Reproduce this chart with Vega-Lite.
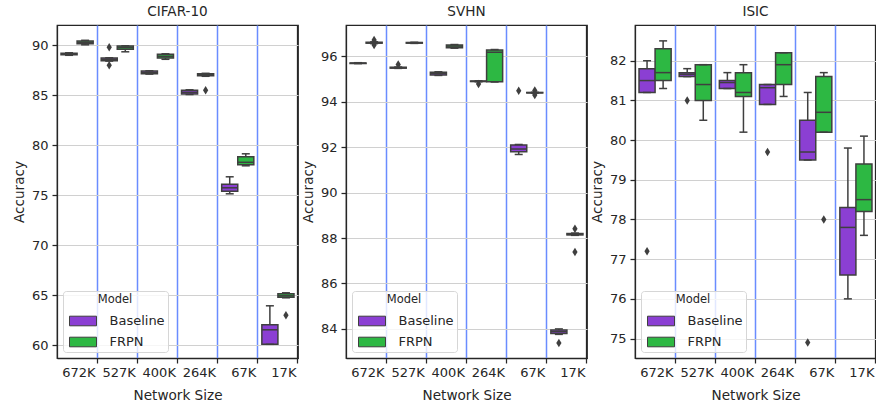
{
  "$schema": "https://vega.github.io/schema/vega-lite/v6.json",
  "background": "white",
  "padding": {"left": 11, "top": 4, "right": 1, "bottom": 1},
  "config": {
    "font": "DejaVu Sans",
    "view": {"stroke": "#262626", "strokeWidth": 1.25},
    "axis": {"labelFontSize": 13, "titleFontSize": 13.6, "labelColor": "#262626", "titleColor": "#262626", "titleFontWeight": "normal", "domainColor": "#262626", "tickColor": "#262626", "tickSize": 5, "domainWidth": 1.25, "tickWidth": 1.25, "labelPadding": 3},
    "axisY": {"titlePadding": 5, "labelPadding": 4},
    "title": {"fontSize": 13.6, "fontWeight": "normal", "color": "#262626", "offset": 6},
    "legend": {"orient": "bottom-left", "offset": 6, "fillColor": "rgba(255,255,255,0.8)", "strokeColor": "#d6d6d6", "cornerRadius": 3, "padding": 3, "titleAnchor": "middle", "titleFontSize": 11.5, "titleFontWeight": "normal", "titleColor": "#262626", "labelFontSize": 13, "labelColor": "#262626", "symbolType": "M-1.35,-0.48H1.35V0.48H-1.35Z", "symbolSize": 400, "symbolOffset": 6.5, "symbolStrokeColor": "#3f3f3f", "symbolStrokeWidth": 1, "symbolOpacity": 1, "labelOffset": 16, "rowPadding": 3, "titlePadding": 5}
  },
  "datasets": {
    "boxes": [
      {"panel": "CIFAR-10", "size": "672K", "model": "Baseline", "lo": 89.0, "q1": 89.05, "med": 89.12, "q3": 89.2, "hi": 89.25},
      {"panel": "CIFAR-10", "size": "672K", "model": "FRPN", "lo": 90.05, "q1": 90.15, "med": 90.3, "q3": 90.42, "hi": 90.5},
      {"panel": "CIFAR-10", "size": "527K", "model": "Baseline", "lo": 88.42, "q1": 88.45, "med": 88.6, "q3": 88.72, "hi": 88.75},
      {"panel": "CIFAR-10", "size": "527K", "model": "FRPN", "lo": 89.35, "q1": 89.6, "med": 89.78, "q3": 89.92, "hi": 89.95},
      {"panel": "CIFAR-10", "size": "400K", "model": "Baseline", "lo": 87.12, "q1": 87.15, "med": 87.28, "q3": 87.42, "hi": 87.45},
      {"panel": "CIFAR-10", "size": "400K", "model": "FRPN", "lo": 88.6, "q1": 88.72, "med": 88.9, "q3": 89.1, "hi": 89.15},
      {"panel": "CIFAR-10", "size": "264K", "model": "Baseline", "lo": 85.08, "q1": 85.12, "med": 85.3, "q3": 85.5, "hi": 85.55},
      {"panel": "CIFAR-10", "size": "264K", "model": "FRPN", "lo": 86.9, "q1": 86.95, "med": 87.05, "q3": 87.15, "hi": 87.2},
      {"panel": "CIFAR-10", "size": "67K", "model": "Baseline", "lo": 75.15, "q1": 75.4, "med": 75.75, "q3": 76.1, "hi": 76.85},
      {"panel": "CIFAR-10", "size": "67K", "model": "FRPN", "lo": 77.95, "q1": 78.05, "med": 78.3, "q3": 78.85, "hi": 79.15},
      {"panel": "CIFAR-10", "size": "17K", "model": "Baseline", "lo": 60.1, "q1": 60.1, "med": 61.55, "q3": 62.05, "hi": 63.95},
      {"panel": "CIFAR-10", "size": "17K", "model": "FRPN", "lo": 64.75, "q1": 64.8, "med": 64.95, "q3": 65.15, "hi": 65.25},
      {"panel": "SVHN", "size": "672K", "model": "Baseline", "lo": 95.68, "q1": 95.69, "med": 95.7, "q3": 95.71, "hi": 95.72},
      {"panel": "SVHN", "size": "672K", "model": "FRPN", "lo": 96.56, "q1": 96.58, "med": 96.6, "q3": 96.62, "hi": 96.64},
      {"panel": "SVHN", "size": "527K", "model": "Baseline", "lo": 95.47, "q1": 95.48, "med": 95.5, "q3": 95.52, "hi": 95.53},
      {"panel": "SVHN", "size": "527K", "model": "FRPN", "lo": 96.57, "q1": 96.58, "med": 96.6, "q3": 96.61, "hi": 96.62},
      {"panel": "SVHN", "size": "400K", "model": "Baseline", "lo": 95.16, "q1": 95.18, "med": 95.25, "q3": 95.3, "hi": 95.32},
      {"panel": "SVHN", "size": "400K", "model": "FRPN", "lo": 96.36, "q1": 96.38, "med": 96.45, "q3": 96.5, "hi": 96.52},
      {"panel": "SVHN", "size": "264K", "model": "Baseline", "lo": 94.88, "q1": 94.89, "med": 94.9, "q3": 94.91, "hi": 94.92},
      {"panel": "SVHN", "size": "264K", "model": "FRPN", "lo": 94.87, "q1": 94.88, "med": 96.18, "q3": 96.28, "hi": 96.3},
      {"panel": "SVHN", "size": "67K", "model": "Baseline", "lo": 91.68, "q1": 91.8, "med": 91.92, "q3": 92.1, "hi": 92.12},
      {"panel": "SVHN", "size": "67K", "model": "FRPN", "lo": 94.38, "q1": 94.39, "med": 94.4, "q3": 94.41, "hi": 94.42},
      {"panel": "SVHN", "size": "17K", "model": "Baseline", "lo": 83.76, "q1": 83.8, "med": 83.88, "q3": 83.95, "hi": 84.0},
      {"panel": "SVHN", "size": "17K", "model": "FRPN", "lo": 88.12, "q1": 88.14, "med": 88.16, "q3": 88.2, "hi": 88.22},
      {"panel": "ISIC", "size": "672K", "model": "Baseline", "lo": 81.2, "q1": 81.2, "med": 81.5, "q3": 81.8, "hi": 82.0},
      {"panel": "ISIC", "size": "672K", "model": "FRPN", "lo": 81.3, "q1": 81.5, "med": 81.7, "q3": 82.3, "hi": 82.5},
      {"panel": "ISIC", "size": "527K", "model": "Baseline", "lo": 81.6, "q1": 81.6, "med": 81.66, "q3": 81.7, "hi": 81.8},
      {"panel": "ISIC", "size": "527K", "model": "FRPN", "lo": 80.5, "q1": 81.0, "med": 81.4, "q3": 81.9, "hi": 81.9},
      {"panel": "ISIC", "size": "400K", "model": "Baseline", "lo": 81.3, "q1": 81.3, "med": 81.45, "q3": 81.5, "hi": 81.7},
      {"panel": "ISIC", "size": "400K", "model": "FRPN", "lo": 80.2, "q1": 81.1, "med": 81.2, "q3": 81.7, "hi": 81.9},
      {"panel": "ISIC", "size": "264K", "model": "Baseline", "lo": 80.9, "q1": 80.9, "med": 81.32, "q3": 81.4, "hi": 81.4},
      {"panel": "ISIC", "size": "264K", "model": "FRPN", "lo": 81.1, "q1": 81.4, "med": 81.9, "q3": 82.2, "hi": 82.2},
      {"panel": "ISIC", "size": "67K", "model": "Baseline", "lo": 79.5, "q1": 79.5, "med": 79.7, "q3": 80.5, "hi": 81.2},
      {"panel": "ISIC", "size": "67K", "model": "FRPN", "lo": 80.2, "q1": 80.2, "med": 80.7, "q3": 81.6, "hi": 81.7},
      {"panel": "ISIC", "size": "17K", "model": "Baseline", "lo": 76.0, "q1": 76.6, "med": 77.8, "q3": 78.3, "hi": 79.8},
      {"panel": "ISIC", "size": "17K", "model": "FRPN", "lo": 77.6, "q1": 78.2, "med": 78.5, "q3": 79.4, "hi": 80.1}
    ],
    "outliers": [
      {"panel": "CIFAR-10", "size": "527K", "model": "Baseline", "value": 89.8},
      {"panel": "CIFAR-10", "size": "527K", "model": "Baseline", "value": 88.0},
      {"panel": "CIFAR-10", "size": "264K", "model": "FRPN", "value": 85.5},
      {"panel": "CIFAR-10", "size": "17K", "model": "FRPN", "value": 63.0},
      {"panel": "SVHN", "size": "672K", "model": "FRPN", "value": 96.72},
      {"panel": "SVHN", "size": "672K", "model": "FRPN", "value": 96.5},
      {"panel": "SVHN", "size": "527K", "model": "Baseline", "value": 95.64},
      {"panel": "SVHN", "size": "264K", "model": "Baseline", "value": 94.78},
      {"panel": "SVHN", "size": "67K", "model": "Baseline", "value": 94.49},
      {"panel": "SVHN", "size": "67K", "model": "FRPN", "value": 94.5},
      {"panel": "SVHN", "size": "67K", "model": "FRPN", "value": 94.3},
      {"panel": "SVHN", "size": "17K", "model": "Baseline", "value": 83.38},
      {"panel": "SVHN", "size": "17K", "model": "FRPN", "value": 88.41},
      {"panel": "SVHN", "size": "17K", "model": "FRPN", "value": 87.39},
      {"panel": "ISIC", "size": "672K", "model": "Baseline", "value": 77.2},
      {"panel": "ISIC", "size": "527K", "model": "Baseline", "value": 81.0},
      {"panel": "ISIC", "size": "264K", "model": "Baseline", "value": 79.7},
      {"panel": "ISIC", "size": "67K", "model": "Baseline", "value": 74.9},
      {"panel": "ISIC", "size": "67K", "model": "FRPN", "value": 78.0}
    ]
  },
  "spacing": 48,
  "bounds": "flush",
  "resolve": {"scale": {"color": "independent", "y": "independent", "x": "independent", "xOffset": "independent"}, "legend": {"color": "independent"}},
  "hconcat": [
    {
      "width": 241, "height": 333, "title": "CIFAR-10",
      "encoding": {
        "x": {"field": "size", "type": "nominal", "sort": ["672K", "527K", "400K", "264K", "67K", "17K"], "title": "Network Size", "scale": {"paddingInner": 0, "paddingOuter": 0}, "axis": {"bandPosition": 1, "labelAlign": "right", "labelOffset": 18.5, "labelAngle": 0, "labelOverlap": false, "grid": true, "gridColor": {"condition": {"test": "datum.value === '17K'", "value": "#262626"}, "value": "#6a8cff"}, "gridWidth": {"condition": {"test": "datum.value === '17K'", "value": 1.25}, "value": 1.5}, "gridOpacity": 1, "titlePadding": 9}},
        "xOffset": {"field": "model", "type": "nominal", "sort": ["Baseline", "FRPN"], "scale": {"paddingOuter": 0.25, "paddingInner": 0}},
        "color": {"field": "model", "type": "nominal", "title": "Model", "scale": {"domain": ["Baseline", "FRPN"], "range": ["#8b3fd3", "#2db843"]}}
      },
      "layer": [
        {
          "data": {"name": "boxes"},
          "transform": [{"filter": "datum.panel === 'CIFAR-10'"}],
          "layer": [
            {"mark": {"type": "rule", "color": "#3f3f3f", "strokeWidth": 1.5}, "encoding": {"y": {"field": "lo", "type": "quantitative", "title": "Accuracy", "scale": {"domain": [58.73, 92.03], "nice": false, "zero": false}, "axis": {"values": [60, 65, 70, 75, 80, 85, 90], "grid": true, "gridColor": "#d0d0d0", "gridWidth": 1}}, "y2": {"field": "hi"}, "color": {"value": "#3f3f3f"}}},
            {"mark": {"type": "bar", "stroke": "#3f3f3f", "strokeWidth": 1.5, "opacity": 1}, "encoding": {"y": {"field": "q1", "type": "quantitative"}, "y2": {"field": "q3"}}},
            {"mark": {"type": "tick", "color": "#3f3f3f", "size": 16, "thickness": 1.5, "opacity": 1}, "encoding": {"y": {"field": "med", "type": "quantitative"}, "color": {"value": "#3f3f3f"}}},
            {"mark": {"type": "tick", "color": "#3f3f3f", "size": 8, "thickness": 1.5, "opacity": 1}, "encoding": {"y": {"field": "lo", "type": "quantitative"}, "color": {"value": "#3f3f3f"}}},
            {"mark": {"type": "tick", "color": "#3f3f3f", "size": 8, "thickness": 1.5, "opacity": 1}, "encoding": {"y": {"field": "hi", "type": "quantitative"}, "color": {"value": "#3f3f3f"}}}
          ]
        },
        {
          "data": {"name": "outliers"},
          "transform": [{"filter": "datum.panel === 'CIFAR-10'"}],
          "mark": {"type": "point", "shape": "M0,-1L0.62,0L0,1L-0.62,0Z", "size": 72, "filled": true, "opacity": 1},
          "encoding": {"y": {"field": "value", "type": "quantitative"}, "color": {"value": "#3f3f3f"}}
        }
      ]
    },
    {
      "width": 241, "height": 333, "title": "SVHN",
      "encoding": {
        "x": {"field": "size", "type": "nominal", "sort": ["672K", "527K", "400K", "264K", "67K", "17K"], "title": "Network Size", "scale": {"paddingInner": 0, "paddingOuter": 0}, "axis": {"bandPosition": 1, "labelAlign": "right", "labelOffset": 18.5, "labelAngle": 0, "labelOverlap": false, "grid": true, "gridColor": {"condition": {"test": "datum.value === '17K'", "value": "#262626"}, "value": "#6a8cff"}, "gridWidth": {"condition": {"test": "datum.value === '17K'", "value": 1.25}, "value": 1.5}, "gridOpacity": 1, "titlePadding": 9}},
        "xOffset": {"field": "model", "type": "nominal", "sort": ["Baseline", "FRPN"], "scale": {"paddingOuter": 0.25, "paddingInner": 0}},
        "color": {"field": "model", "type": "nominal", "title": "Model", "scale": {"domain": ["Baseline", "FRPN"], "range": ["#8b3fd3", "#2db843"]}}
      },
      "layer": [
        {
          "data": {"name": "boxes"},
          "transform": [{"filter": "datum.panel === 'SVHN'"}],
          "layer": [
            {"mark": {"type": "rule", "color": "#3f3f3f", "strokeWidth": 1.5}, "encoding": {"y": {"field": "lo", "type": "quantitative", "title": "Accuracy", "scale": {"domain": [82.72, 97.38], "nice": false, "zero": false}, "axis": {"values": [84, 86, 88, 90, 92, 94, 96], "grid": true, "gridColor": "#d0d0d0", "gridWidth": 1}}, "y2": {"field": "hi"}, "color": {"value": "#3f3f3f"}}},
            {"mark": {"type": "bar", "stroke": "#3f3f3f", "strokeWidth": 1.5, "opacity": 1}, "encoding": {"y": {"field": "q1", "type": "quantitative"}, "y2": {"field": "q3"}}},
            {"mark": {"type": "tick", "color": "#3f3f3f", "size": 16, "thickness": 1.5, "opacity": 1}, "encoding": {"y": {"field": "med", "type": "quantitative"}, "color": {"value": "#3f3f3f"}}},
            {"mark": {"type": "tick", "color": "#3f3f3f", "size": 8, "thickness": 1.5, "opacity": 1}, "encoding": {"y": {"field": "lo", "type": "quantitative"}, "color": {"value": "#3f3f3f"}}},
            {"mark": {"type": "tick", "color": "#3f3f3f", "size": 8, "thickness": 1.5, "opacity": 1}, "encoding": {"y": {"field": "hi", "type": "quantitative"}, "color": {"value": "#3f3f3f"}}}
          ]
        },
        {
          "data": {"name": "outliers"},
          "transform": [{"filter": "datum.panel === 'SVHN'"}],
          "mark": {"type": "point", "shape": "M0,-1L0.62,0L0,1L-0.62,0Z", "size": 72, "filled": true, "opacity": 1},
          "encoding": {"y": {"field": "value", "type": "quantitative"}, "color": {"value": "#3f3f3f"}}
        }
      ]
    },
    {
      "width": 241, "height": 333, "title": "ISIC",
      "encoding": {
        "x": {"field": "size", "type": "nominal", "sort": ["672K", "527K", "400K", "264K", "67K", "17K"], "title": "Network Size", "scale": {"paddingInner": 0, "paddingOuter": 0}, "axis": {"bandPosition": 1, "labelAlign": "right", "labelOffset": 18.5, "labelAngle": 0, "labelOverlap": false, "grid": true, "gridColor": {"condition": {"test": "datum.value === '17K'", "value": "#262626"}, "value": "#6a8cff"}, "gridWidth": {"condition": {"test": "datum.value === '17K'", "value": 1.25}, "value": 1.5}, "gridOpacity": 1, "titlePadding": 9}},
        "xOffset": {"field": "model", "type": "nominal", "sort": ["Baseline", "FRPN"], "scale": {"paddingOuter": 0.25, "paddingInner": 0}},
        "color": {"field": "model", "type": "nominal", "title": "Model", "scale": {"domain": ["Baseline", "FRPN"], "range": ["#8b3fd3", "#2db843"]}}
      },
      "layer": [
        {
          "data": {"name": "boxes"},
          "transform": [{"filter": "datum.panel === 'ISIC'"}],
          "layer": [
            {"mark": {"type": "rule", "color": "#3f3f3f", "strokeWidth": 1.5}, "encoding": {"y": {"field": "lo", "type": "quantitative", "title": "Accuracy", "scale": {"domain": [74.51, 82.9], "nice": false, "zero": false}, "axis": {"values": [75, 76, 77, 78, 79, 80, 81, 82], "grid": true, "gridColor": "#d0d0d0", "gridWidth": 1}}, "y2": {"field": "hi"}, "color": {"value": "#3f3f3f"}}},
            {"mark": {"type": "bar", "stroke": "#3f3f3f", "strokeWidth": 1.5, "opacity": 1}, "encoding": {"y": {"field": "q1", "type": "quantitative"}, "y2": {"field": "q3"}}},
            {"mark": {"type": "tick", "color": "#3f3f3f", "size": 16, "thickness": 1.5, "opacity": 1}, "encoding": {"y": {"field": "med", "type": "quantitative"}, "color": {"value": "#3f3f3f"}}},
            {"mark": {"type": "tick", "color": "#3f3f3f", "size": 8, "thickness": 1.5, "opacity": 1}, "encoding": {"y": {"field": "lo", "type": "quantitative"}, "color": {"value": "#3f3f3f"}}},
            {"mark": {"type": "tick", "color": "#3f3f3f", "size": 8, "thickness": 1.5, "opacity": 1}, "encoding": {"y": {"field": "hi", "type": "quantitative"}, "color": {"value": "#3f3f3f"}}}
          ]
        },
        {
          "data": {"name": "outliers"},
          "transform": [{"filter": "datum.panel === 'ISIC'"}],
          "mark": {"type": "point", "shape": "M0,-1L0.62,0L0,1L-0.62,0Z", "size": 72, "filled": true, "opacity": 1},
          "encoding": {"y": {"field": "value", "type": "quantitative"}, "color": {"value": "#3f3f3f"}}
        }
      ]
    }
  ]
}
